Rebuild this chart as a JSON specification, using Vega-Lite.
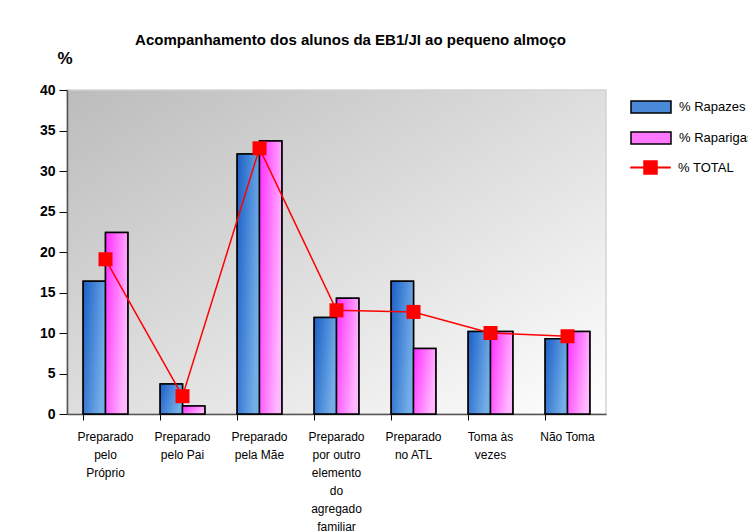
{
  "$schema": "https://vega.github.io/schema/vega-lite/v6.json",
  "width": 539,
  "height": 324,
  "autosize": "none",
  "padding": {"left": 67, "top": 90, "right": 142, "bottom": 118},
  "background": "white",
  "title": {
    "text": "Acompanhamento dos alunos da EB1/JI ao pequeno almoço",
    "font": "Liberation Sans",
    "fontSize": 15,
    "fontWeight": "bold",
    "color": "black",
    "anchor": "middle",
    "dx": 14,
    "offset": 1
  },
  "datasets": {
    "bars": [
      {"cat": "Preparado|pelo|Próprio", "serie": "% Rapazes", "value": 16.4},
      {"cat": "Preparado|pelo|Próprio", "serie": "% Raparigas", "value": 22.4},
      {"cat": "Preparado|pelo Pai", "serie": "% Rapazes", "value": 3.7},
      {"cat": "Preparado|pelo Pai", "serie": "% Raparigas", "value": 1.0},
      {"cat": "Preparado|pela Mãe", "serie": "% Rapazes", "value": 32.1},
      {"cat": "Preparado|pela Mãe", "serie": "% Raparigas", "value": 33.7},
      {"cat": "Preparado|por outro|elemento|do|agregado|familiar", "serie": "% Rapazes", "value": 11.9},
      {"cat": "Preparado|por outro|elemento|do|agregado|familiar", "serie": "% Raparigas", "value": 14.3},
      {"cat": "Preparado|no ATL", "serie": "% Rapazes", "value": 16.4},
      {"cat": "Preparado|no ATL", "serie": "% Raparigas", "value": 8.1},
      {"cat": "Toma às|vezes", "serie": "% Rapazes", "value": 10.2},
      {"cat": "Toma às|vezes", "serie": "% Raparigas", "value": 10.2},
      {"cat": "Não Toma", "serie": "% Rapazes", "value": 9.3},
      {"cat": "Não Toma", "serie": "% Raparigas", "value": 10.2}
    ],
    "total": [
      {"cat": "Preparado|pelo|Próprio", "value": 19.1},
      {"cat": "Preparado|pelo Pai", "value": 2.2},
      {"cat": "Preparado|pela Mãe", "value": 32.8},
      {"cat": "Preparado|por outro|elemento|do|agregado|familiar", "value": 12.8},
      {"cat": "Preparado|no ATL", "value": 12.6},
      {"cat": "Toma às|vezes", "value": 10.0},
      {"cat": "Não Toma", "value": 9.6}
    ]
  },
  "encoding": {
    "x": {
      "field": "cat",
      "type": "nominal",
      "sort": null,
      "scale": {
        "domain": ["Preparado|pelo|Próprio", "Preparado|pelo Pai", "Preparado|pela Mãe", "Preparado|por outro|elemento|do|agregado|familiar", "Preparado|no ATL", "Toma às|vezes", "Não Toma"],
        "paddingInner": 0.42,
        "paddingOuter": 0.21
      },
      "axis": {
        "title": null,
        "labelAngle": 0,
        "labelExpr": "split(datum.label, '|')",
        "labelFont": "Liberation Sans",
        "labelFontSize": 12,
        "labelColor": "black",
        "labelLineHeight": 18,
        "labelPadding": 11,
        "labelBaseline": "top",
        "bandPosition": 0,
        "tickColor": "black",
        "tickSize": 6,
        "domainColor": "#555555",
        "domainWidth": 1.5
      }
    },
    "y": {
      "field": "value",
      "type": "quantitative",
      "scale": {"domain": [0, 40]},
      "axis": {
        "title": "%",
        "titleAngle": 0,
        "titleFont": "Liberation Sans",
        "titleFontSize": 17,
        "titleFontWeight": "bold",
        "titleColor": "black",
        "titleX": -10,
        "titleY": -23,
        "titleAlign": "left",
        "values": [0, 5, 10, 15, 20, 25, 30, 35, 40],
        "labelFont": "Liberation Sans",
        "labelFontSize": 14,
        "labelFontWeight": "bold",
        "labelColor": "black",
        "labelPadding": 4,
        "tickColor": "black",
        "tickSize": 8,
        "domainColor": "#555555",
        "domainWidth": 1.5,
        "grid": false
      }
    }
  },
  "layer": [
    {
      "data": {"name": "bars"},
      "mark": {"type": "bar", "stroke": "black", "strokeWidth": 1.5},
      "encoding": {
        "xOffset": {"field": "serie", "type": "nominal", "sort": null, "scale": {"domain": ["% Rapazes", "% Raparigas"], "paddingInner": 0, "paddingOuter": 0}},
        "fill": {
          "field": "serie",
          "type": "nominal",
          "scale": {"domain": ["% Rapazes", "% Raparigas"], "range": ["#4a88d8", "#ff78ff"]},
          "legend": {
            "title": null,
            "orient": "none",
            "legendX": 573,
            "legendY": 6,
            "padding": 0,
            "symbolType": "M-2,-0.6H2V0.6H-2Z",
            "symbolSize": 400,
            "symbolStrokeColor": "black",
            "symbolStrokeWidth": 1.5,
            "labelFont": "Liberation Sans",
            "labelFontSize": 13,
            "labelColor": "black",
            "labelOffset": 17,
            "rowPadding": 11
          }
        }
      }
    },
    {
      "data": {"name": "bars"},
      "transform": [{"filter": "datum.serie === '% Rapazes'"}],
      "mark": {"type": "bar", "stroke": "black", "strokeWidth": 1.5,
        "fill": {"gradient": "linear", "x1": 0, "y1": 0, "x2": 1, "y2": 0.4, "stops": [{"offset": 0, "color": "#1a5fc6"}, {"offset": 1, "color": "#74aee8"}]}},
      "encoding": {
        "xOffset": {"field": "serie", "type": "nominal", "sort": null}
      }
    },
    {
      "data": {"name": "bars"},
      "transform": [{"filter": "datum.serie === '% Raparigas'"}],
      "mark": {"type": "bar", "stroke": "black", "strokeWidth": 1.5,
        "fill": {"gradient": "linear", "x1": 0, "y1": 0, "x2": 1, "y2": 0.4, "stops": [{"offset": 0, "color": "#ff2cff"}, {"offset": 1, "color": "#ffb8ff"}]}},
      "encoding": {
        "xOffset": {"field": "serie", "type": "nominal", "sort": null}
      }
    },
    {
      "data": {"name": "total"},
      "mark": {"type": "line", "strokeWidth": 1.5},
      "encoding": {
        "stroke": {
          "datum": "% TOTAL",
          "scale": {"range": ["red"]},
          "legend": {
            "title": null,
            "orient": "none",
            "legendX": 573,
            "legendY": 67,
            "padding": 0,
            "symbolType": "M-2,-0.075H2V0.075H-2ZM-0.7,-0.7H0.7V0.7H-0.7Z",
            "symbolSize": 400,
            "symbolFillColor": "red",
            "symbolStrokeColor": "red",
            "symbolStrokeWidth": 0.5,
            "labelFont": "Liberation Sans",
            "labelFontSize": 13,
            "labelColor": "black",
            "labelOffset": 17,
            "encode": {"symbols": {"update": {"fill": {"value": "red"}, "stroke": {"value": "red"}, "strokeWidth": {"value": 0.5}, "opacity": {"value": 1}}}}
          }
        }
      }
    },
    {
      "data": {"name": "total"},
      "mark": {"type": "point", "shape": "square", "filled": true, "color": "red", "opacity": 1, "size": 196},
      "encoding": {}
    }
  ],
  "config": {
    "view": {
      "fill": {"gradient": "linear", "x1": 0, "y1": 0, "x2": 1, "y2": 1, "stops": [{"offset": 0, "color": "#bcbcbc"}, {"offset": 1, "color": "#ffffff"}]},
      "stroke": "#d4d4d4",
      "strokeWidth": 1.5
    }
  }
}
